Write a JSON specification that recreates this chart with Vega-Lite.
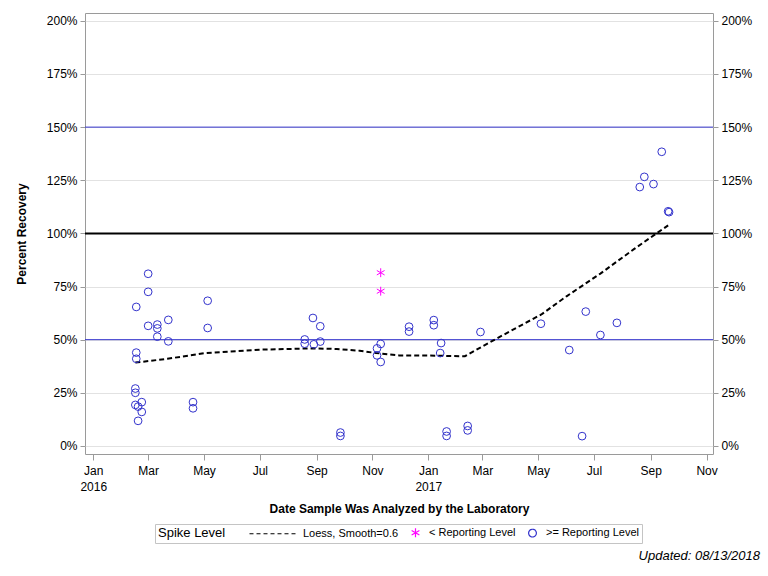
{
  "$schema": "https://vega.github.io/schema/vega-lite/v6.json",
  "width": 628,
  "height": 441,
  "autosize": "none",
  "padding": {"left": 85, "top": 13, "right": 55, "bottom": 122},
  "background": "white",
  "title": {
    "text": "Updated: 08/13/2018",
    "orient": "bottom",
    "anchor": "end",
    "frame": "group",
    "dx": 47,
    "offset": 6,
    "font": "Liberation Sans",
    "fontSize": 13,
    "fontStyle": "italic",
    "fontWeight": "normal",
    "color": "#000000"
  },
  "config": {
    "font": "Liberation Sans",
    "view": {"stroke": "#9A9A9A", "strokeWidth": 1},
    "axis": {
      "labelFont": "Liberation Sans",
      "labelFontSize": 12,
      "labelColor": "#000000",
      "tickColor": "#9A9A9A",
      "titleFont": "Liberation Sans",
      "titleFontSize": 12,
      "titleFontWeight": "bold",
      "titleColor": "#000000",
      "domain": false
    },
    "legend": {
      "orient": "none",
      "legendX": 70,
      "legendY": 511,
      "direction": "horizontal",
      "titleOrient": "left",
      "titleFont": "Liberation Sans",
      "titleFontSize": 13,
      "titleFontWeight": "normal",
      "titleColor": "#000000",
      "titlePadding": 24,
      "labelFont": "Liberation Sans",
      "labelFontSize": 11,
      "labelColor": "#000000",
      "columnPadding": 10,
      "padding": 3,
      "strokeColor": "#C4C4C4",
      "symbolStrokeWidth": 1.2
    }
  },
  "datasets": {
    "loess": [
      {"date": "2016-02-16", "recovery": 39.2},
      {"date": "2016-03-22", "recovery": 41.0},
      {"date": "2016-05-01", "recovery": 43.6},
      {"date": "2016-07-01", "recovery": 45.3},
      {"date": "2016-08-28", "recovery": 45.9},
      {"date": "2016-09-23", "recovery": 45.6},
      {"date": "2016-10-18", "recovery": 44.8},
      {"date": "2016-11-05", "recovery": 43.7},
      {"date": "2016-11-30", "recovery": 42.6},
      {"date": "2017-01-02", "recovery": 42.5},
      {"date": "2017-02-10", "recovery": 42.2},
      {"date": "2017-03-01", "recovery": 46.8},
      {"date": "2017-03-20", "recovery": 51.3},
      {"date": "2017-05-05", "recovery": 62.0},
      {"date": "2017-06-01", "recovery": 70.4},
      {"date": "2017-07-08", "recovery": 81.1},
      {"date": "2017-08-14", "recovery": 92.7},
      {"date": "2017-09-05", "recovery": 99.3},
      {"date": "2017-09-20", "recovery": 103.8}
    ],
    "samples": [
      {"date": "2016-02-16", "recovery": 27.0, "series": ">= Reporting Level"},
      {"date": "2016-02-16", "recovery": 25.0, "series": ">= Reporting Level"},
      {"date": "2016-02-16", "recovery": 19.3, "series": ">= Reporting Level"},
      {"date": "2016-02-17", "recovery": 65.4, "series": ">= Reporting Level"},
      {"date": "2016-02-17", "recovery": 43.9, "series": ">= Reporting Level"},
      {"date": "2016-02-17", "recovery": 41.0, "series": ">= Reporting Level"},
      {"date": "2016-02-19", "recovery": 18.5, "series": ">= Reporting Level"},
      {"date": "2016-02-19", "recovery": 11.8, "series": ">= Reporting Level"},
      {"date": "2016-02-23", "recovery": 20.6, "series": ">= Reporting Level"},
      {"date": "2016-02-23", "recovery": 16.0, "series": ">= Reporting Level"},
      {"date": "2016-03-01", "recovery": 81.0, "series": ">= Reporting Level"},
      {"date": "2016-03-01", "recovery": 72.5, "series": ">= Reporting Level"},
      {"date": "2016-03-01", "recovery": 56.5, "series": ">= Reporting Level"},
      {"date": "2016-03-11", "recovery": 57.1, "series": ">= Reporting Level"},
      {"date": "2016-03-11", "recovery": 55.3, "series": ">= Reporting Level"},
      {"date": "2016-03-11", "recovery": 51.4, "series": ">= Reporting Level"},
      {"date": "2016-03-23", "recovery": 59.3, "series": ">= Reporting Level"},
      {"date": "2016-03-23", "recovery": 49.2, "series": ">= Reporting Level"},
      {"date": "2016-04-19", "recovery": 20.6, "series": ">= Reporting Level"},
      {"date": "2016-04-19", "recovery": 17.7, "series": ">= Reporting Level"},
      {"date": "2016-05-05", "recovery": 68.3, "series": ">= Reporting Level"},
      {"date": "2016-05-05", "recovery": 55.5, "series": ">= Reporting Level"},
      {"date": "2016-08-19", "recovery": 50.1, "series": ">= Reporting Level"},
      {"date": "2016-08-19", "recovery": 48.1, "series": ">= Reporting Level"},
      {"date": "2016-08-28", "recovery": 60.2, "series": ">= Reporting Level"},
      {"date": "2016-08-29", "recovery": 47.8, "series": ">= Reporting Level"},
      {"date": "2016-09-05", "recovery": 56.3, "series": ">= Reporting Level"},
      {"date": "2016-09-05", "recovery": 49.1, "series": ">= Reporting Level"},
      {"date": "2016-09-27", "recovery": 6.3, "series": ">= Reporting Level"},
      {"date": "2016-09-27", "recovery": 4.7, "series": ">= Reporting Level"},
      {"date": "2016-11-06", "recovery": 45.9, "series": ">= Reporting Level"},
      {"date": "2016-11-06", "recovery": 42.6, "series": ">= Reporting Level"},
      {"date": "2016-11-10", "recovery": 81.5, "series": "< Reporting Level"},
      {"date": "2016-11-10", "recovery": 72.8, "series": "< Reporting Level"},
      {"date": "2016-11-10", "recovery": 48.0, "series": ">= Reporting Level"},
      {"date": "2016-11-10", "recovery": 39.5, "series": ">= Reporting Level"},
      {"date": "2016-12-11", "recovery": 56.1, "series": ">= Reporting Level"},
      {"date": "2016-12-11", "recovery": 53.8, "series": ">= Reporting Level"},
      {"date": "2017-01-07", "recovery": 59.2, "series": ">= Reporting Level"},
      {"date": "2017-01-07", "recovery": 56.8, "series": ">= Reporting Level"},
      {"date": "2017-01-14", "recovery": 43.7, "series": ">= Reporting Level"},
      {"date": "2017-01-15", "recovery": 48.4, "series": ">= Reporting Level"},
      {"date": "2017-01-21", "recovery": 6.8, "series": ">= Reporting Level"},
      {"date": "2017-01-21", "recovery": 4.7, "series": ">= Reporting Level"},
      {"date": "2017-02-13", "recovery": 9.4, "series": ">= Reporting Level"},
      {"date": "2017-02-13", "recovery": 7.3, "series": ">= Reporting Level"},
      {"date": "2017-02-27", "recovery": 53.6, "series": ">= Reporting Level"},
      {"date": "2017-05-04", "recovery": 57.5, "series": ">= Reporting Level"},
      {"date": "2017-06-04", "recovery": 45.1, "series": ">= Reporting Level"},
      {"date": "2017-06-18", "recovery": 4.6, "series": ">= Reporting Level"},
      {"date": "2017-06-22", "recovery": 63.2, "series": ">= Reporting Level"},
      {"date": "2017-07-08", "recovery": 52.2, "series": ">= Reporting Level"},
      {"date": "2017-07-26", "recovery": 57.9, "series": ">= Reporting Level"},
      {"date": "2017-08-20", "recovery": 121.8, "series": ">= Reporting Level"},
      {"date": "2017-08-25", "recovery": 126.6, "series": ">= Reporting Level"},
      {"date": "2017-09-04", "recovery": 123.2, "series": ">= Reporting Level"},
      {"date": "2017-09-13", "recovery": 138.4, "series": ">= Reporting Level"},
      {"date": "2017-09-20", "recovery": 110.4, "series": ">= Reporting Level"},
      {"date": "2017-09-21", "recovery": 110.0, "series": ">= Reporting Level"}
    ]
  },
  "layer": [
    {
      "data": {"values": [{"recovery": 50}, {"recovery": 150}]},
      "mark": {"type": "rule", "color": "#3333CC", "strokeWidth": 1},
      "encoding": {
        "y": {
          "field": "recovery",
          "type": "quantitative",
          "scale": {"domain": [-3.8, 203.7], "nice": false, "zero": false},
          "axis": {
            "orient": "left",
            "values": [0, 25, 50, 75, 100, 125, 150, 175, 200],
            "labelExpr": "datum.value + '%'",
            "title": "Percent Recovery",
            "titlePadding": 18,
            "grid": true,
            "gridColor": "#E2E2E2",
            "tickSize": 5,
            "labelPadding": 3
          }
        }
      }
    },
    {
      "data": {"values": [{"recovery": 100}]},
      "mark": {"type": "rule", "color": "#000000", "strokeWidth": 2},
      "encoding": {
        "y": {
          "field": "recovery",
          "type": "quantitative",
          "scale": {"domain": [-3.8, 203.7], "nice": false, "zero": false},
          "axis": {
            "orient": "right",
            "values": [0, 25, 50, 75, 100, 125, 150, 175, 200],
            "labelExpr": "datum.value + '%'",
            "title": null,
            "grid": false,
            "tickSize": 5,
            "labelPadding": 3
          }
        }
      }
    },
    {
      "data": {"name": "loess"},
      "mark": {"type": "line", "color": "#000000", "strokeWidth": 2, "strokeDash": [5, 3]},
      "encoding": {
        "x": {
          "field": "date",
          "type": "temporal",
          "scale": {"type": "utc", "domain": [{"year": 2015, "month": 12, "date": 23, "utc": true}, {"year": 2017, "month": 11, "date": 8, "utc": true}]},
          "axis": {
            "title": "Date Sample Was Analyzed by the Laboratory",
            "values": [
              {"year": 2016, "month": 1, "date": 1, "utc": true},
              {"year": 2016, "month": 3, "date": 1, "utc": true},
              {"year": 2016, "month": 5, "date": 1, "utc": true},
              {"year": 2016, "month": 7, "date": 1, "utc": true},
              {"year": 2016, "month": 9, "date": 1, "utc": true},
              {"year": 2016, "month": 11, "date": 1, "utc": true},
              {"year": 2017, "month": 1, "date": 1, "utc": true},
              {"year": 2017, "month": 3, "date": 1, "utc": true},
              {"year": 2017, "month": 5, "date": 1, "utc": true},
              {"year": 2017, "month": 7, "date": 1, "utc": true},
              {"year": 2017, "month": 9, "date": 1, "utc": true},
              {"year": 2017, "month": 11, "date": 1, "utc": true}
            ],
            "labelExpr": "utcmonth(datum.value) == 0 ? [utcFormat(datum.value, '%b'), utcFormat(datum.value, '%Y')] : utcFormat(datum.value, '%b')",
            "labelLineHeight": 16,
            "labelFlush": false,
            "labelOverlap": false,
            "grid": false,
            "tickSize": 6,
            "labelPadding": 5,
            "titlePadding": 11
          }
        },
        "y": {
          "field": "recovery",
          "type": "quantitative",
          "scale": {"domain": [-3.8, 203.7], "nice": false, "zero": false},
          "axis": null
        }
      }
    },
    {
      "data": {"name": "samples"},
      "mark": {"type": "point", "filled": false, "strokeWidth": 1, "size": 60, "opacity": 1},
      "encoding": {
        "x": {
          "field": "date",
          "type": "temporal",
          "scale": {"type": "utc", "domain": [{"year": 2015, "month": 12, "date": 23, "utc": true}, {"year": 2017, "month": 11, "date": 8, "utc": true}]},
          "axis": {
            "title": "Date Sample Was Analyzed by the Laboratory",
            "values": [
              {"year": 2016, "month": 1, "date": 1, "utc": true},
              {"year": 2016, "month": 3, "date": 1, "utc": true},
              {"year": 2016, "month": 5, "date": 1, "utc": true},
              {"year": 2016, "month": 7, "date": 1, "utc": true},
              {"year": 2016, "month": 9, "date": 1, "utc": true},
              {"year": 2016, "month": 11, "date": 1, "utc": true},
              {"year": 2017, "month": 1, "date": 1, "utc": true},
              {"year": 2017, "month": 3, "date": 1, "utc": true},
              {"year": 2017, "month": 5, "date": 1, "utc": true},
              {"year": 2017, "month": 7, "date": 1, "utc": true},
              {"year": 2017, "month": 9, "date": 1, "utc": true},
              {"year": 2017, "month": 11, "date": 1, "utc": true}
            ],
            "labelExpr": "utcmonth(datum.value) == 0 ? [utcFormat(datum.value, '%b'), utcFormat(datum.value, '%Y')] : utcFormat(datum.value, '%b')",
            "labelLineHeight": 16,
            "labelFlush": false,
            "labelOverlap": false,
            "grid": false,
            "tickSize": 6,
            "labelPadding": 5,
            "titlePadding": 11
          }
        },
        "y": {
          "field": "recovery",
          "type": "quantitative",
          "scale": {"domain": [-3.8, 203.7], "nice": false, "zero": false},
          "axis": null
        },
        "color": {
          "field": "series",
          "type": "nominal",
          "scale": {
            "domain": ["Loess, Smooth=0.6", "< Reporting Level", ">= Reporting Level"],
            "range": ["#000000", "#FF00FF", "#3333CC"]
          },
          "legend": {
            "title": "Spike Level",
            "symbolSize": {"expr": "datum.value === 'Loess, Smooth=0.6' ? 2116 : 60"},
            "symbolDash": {"expr": "datum.value === 'Loess, Smooth=0.6' ? [4, 3] : [1, 0]"},
            "symbolOffset": {"expr": "datum.value === 'Loess, Smooth=0.6' ? 17 : 0"},
            "labelOffset": {"expr": "datum.value === 'Loess, Smooth=0.6' ? 25 : 8"}
          }
        },
        "shape": {
          "field": "series",
          "type": "nominal",
          "scale": {
            "domain": ["Loess, Smooth=0.6", "< Reporting Level", ">= Reporting Level"],
            "range": ["stroke", "M0,-1.15L0,1.15M-1,-0.575L1,0.575M-1,0.575L1,-0.575", "circle"]
          },
          "legend": {
            "title": "Spike Level",
            "symbolSize": {"expr": "datum.value === 'Loess, Smooth=0.6' ? 2116 : 60"},
            "symbolDash": {"expr": "datum.value === 'Loess, Smooth=0.6' ? [4, 3] : [1, 0]"},
            "symbolOffset": {"expr": "datum.value === 'Loess, Smooth=0.6' ? 17 : 0"},
            "labelOffset": {"expr": "datum.value === 'Loess, Smooth=0.6' ? 25 : 8"}
          }
        }
      }
    }
  ],
  "resolve": {"axis": {"y": "independent"}}
}
